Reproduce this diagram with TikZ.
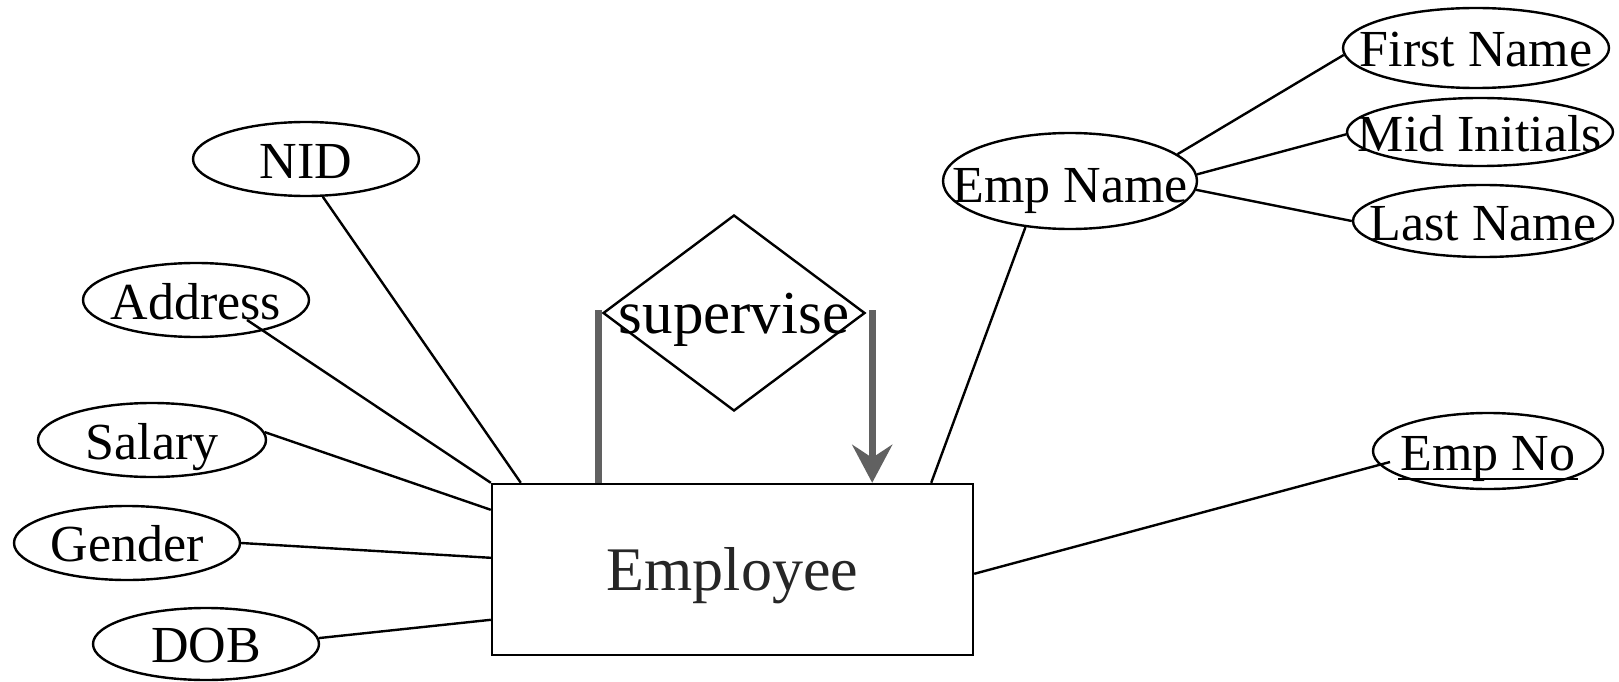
\documentclass[tikz,border=0pt]{standalone}
\usepackage{fontspec}
\setmainfont{Liberation Serif}
\usetikzlibrary{shapes.geometric,arrows.meta}
% centred label that does not enlarge its shape
\newcommand{\ctext}[2]{\makebox[0pt]{\raisebox{#1}[0pt][0pt]{#2}}}
\begin{document}
\begin{tikzpicture}[x=1pt,y=-1pt,
  attr/.style={ellipse, draw, line width=2.4pt, inner sep=0pt,
               font=\fontsize{52}{60}\selectfont},
  entity/.style={rectangle, draw, line width=2.4pt, inner sep=0pt,
                 minimum width=481pt, minimum height=171pt,
                 font=\fontsize{62}{70}\selectfont, text=black!85},
  rel/.style={diamond, draw, line width=2.4pt, inner sep=0pt,
              minimum width=262pt, minimum height=196pt,
              font=\fontsize{61}{70}\selectfont},
  conn/.style={line width=2.4pt},
  link/.style={line width=7pt, draw=black!62}]

\useasboundingbox (0,0) rectangle (1619,682);
\fill[white] (0,0) rectangle (1619,682);

% entity and relationship
\node[entity] (emp) at (732.5,569.5) {\ctext{-21pt}{Employee}};
\node[rel] (sup) at (734,313) {\ctext{-20pt}{supervise}};

% attributes on the left
\node[attr, minimum width=226pt, minimum height=74pt] (nid)  at (306,159) {\ctext{-19pt}{NID}};
\node[attr, minimum width=226pt, minimum height=74pt] (addr) at (196,300) {\ctext{-19pt}{Address}};
\node[attr, minimum width=228pt, minimum height=74pt] (sal)  at (152,440) {\ctext{-19pt}{Salary}};
\node[attr, minimum width=226pt, minimum height=74pt] (gen)  at (127,543) {\ctext{-18pt}{Gender}};
\node[attr, minimum width=226pt, minimum height=72pt] (dob)  at (206,644) {\ctext{-18pt}{DOB}};

% attributes on the right
\node[attr, minimum width=254pt, minimum height=96pt] (ename) at (1070,181) {\ctext{-21pt}{Emp Name}};
\node[attr, minimum width=266pt, minimum height=80pt] (fn)    at (1476,48)  {\ctext{-19pt}{First Name}};
\node[attr, minimum width=266pt, minimum height=68pt] (mid)   at (1480,132) {\ctext{-19pt}{Mid Initials}};
\node[attr, minimum width=260pt, minimum height=72pt] (ln)    at (1483,221) {\ctext{-19pt}{Last Name}};
\node[attr, minimum width=230pt, minimum height=76pt] (eno)   at (1488,451) {\ctext{-19pt}{Emp No}};

% key underline
\draw[conn] ([xshift=-90pt,yshift=-28pt]eno.center) -- ([xshift=90pt,yshift=-28pt]eno.center);

% attribute connectors
\draw[conn] (nid.-66) -- ([xshift=30pt]emp.north west);
\draw[conn] ([xshift=51pt,yshift=-20pt]addr.center) -- (emp.north west);
\draw[conn] (sal.4) -- ([yshift=-27pt]emp.north west);
\draw[conn] (gen.east) -- ([yshift=-75pt]emp.north west);
\draw[conn] (dob.3) -- ([yshift=-137pt]emp.north west);
\draw[conn] (ename.-134) -- ([xshift=-43pt]emp.north east);
\draw[conn] ([xshift=-98pt,yshift=-11pt]eno.center) -- ([yshift=-91pt]emp.north east);
\draw[conn] (ename.14) -- (fn.183);
\draw[conn] (ename.3) -- (mid.181);
\draw[conn] (ename.-4) -- (ln.west);

% recursive relationship
\draw[link] ([xshift=-3pt,yshift=3pt]sup.west) -- ([xshift=-3pt]sup.west |- emp.north);
\draw[link, -{Stealth[length=38pt,width=40pt,inset=13pt]}, fill=black!62]
  ([xshift=6pt,yshift=3pt]sup.east) -- ([xshift=6pt]sup.east |- emp.north);
\end{tikzpicture}
\end{document}
